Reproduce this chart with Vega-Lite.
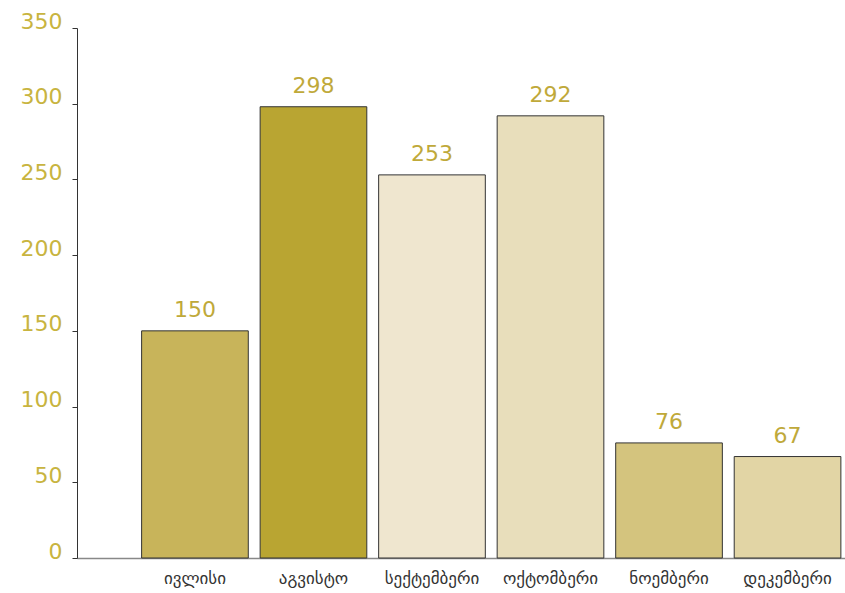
{
  "$schema": "https://vega.github.io/schema/vega-lite/v6.json",
  "width": 768,
  "height": 530,
  "autosize": "none",
  "padding": {"left": 77, "top": 28, "right": 0, "bottom": 35},
  "background": "white",
  "config": {"view": {"stroke": null}},
  "data": {
    "values": [
      {"month": "ივლისი", "value": 150},
      {"month": "აგვისტო", "value": 298},
      {"month": "სექტემბერი", "value": 253},
      {"month": "ოქტომბერი", "value": 292},
      {"month": "ნოემბერი", "value": 76},
      {"month": "დეკემბერი", "value": 67}
    ]
  },
  "encoding": {
    "x": {
      "field": "month",
      "type": "nominal",
      "sort": null,
      "scale": {"paddingInner": 0.1, "paddingOuter": 0.29, "align": 0.94},
      "axis": {
        "title": null,
        "labelAngle": 0,
        "ticks": false,
        "domainColor": "#888888",
        "domainWidth": 1.5,
        "labelColor": "#333333",
        "labelFont": "DejaVu Sans",
        "labelFontSize": 17,
        "labelPadding": 12
      }
    },
    "y": {
      "field": "value",
      "type": "quantitative",
      "scale": {"domain": [0, 350], "nice": false},
      "axis": {
        "title": null,
        "values": [0, 50, 100, 150, 200, 250, 300, 350],
        "grid": false,
        "domainColor": "#333333",
        "tickColor": "#333333",
        "tickSize": 5,
        "labelColor": "#C8B440",
        "labelFont": "DejaVu Sans",
        "labelFontSize": 22,
        "labelBaseline": "alphabetic",
        "labelPadding": 10
      }
    }
  },
  "layer": [
    {
      "mark": {"type": "bar", "stroke": "#333333", "strokeWidth": 1},
      "encoding": {
        "color": {
          "field": "month",
          "type": "nominal",
          "sort": null,
          "legend": null,
          "scale": {
            "domain": ["ივლისი", "აგვისტო", "სექტემბერი", "ოქტომბერი", "ნოემბერი", "დეკემბერი"],
            "range": ["#C8B45A", "#B9A532", "#EFE6CF", "#E8DEBB", "#D4C47E", "#E2D5A5"]
          }
        }
      }
    },
    {
      "mark": {"type": "text", "dy": -14, "baseline": "alphabetic", "font": "DejaVu Sans", "fontSize": 22, "color": "#BFA93A"},
      "encoding": {"text": {"field": "value", "type": "quantitative"}}
    }
  ]
}
